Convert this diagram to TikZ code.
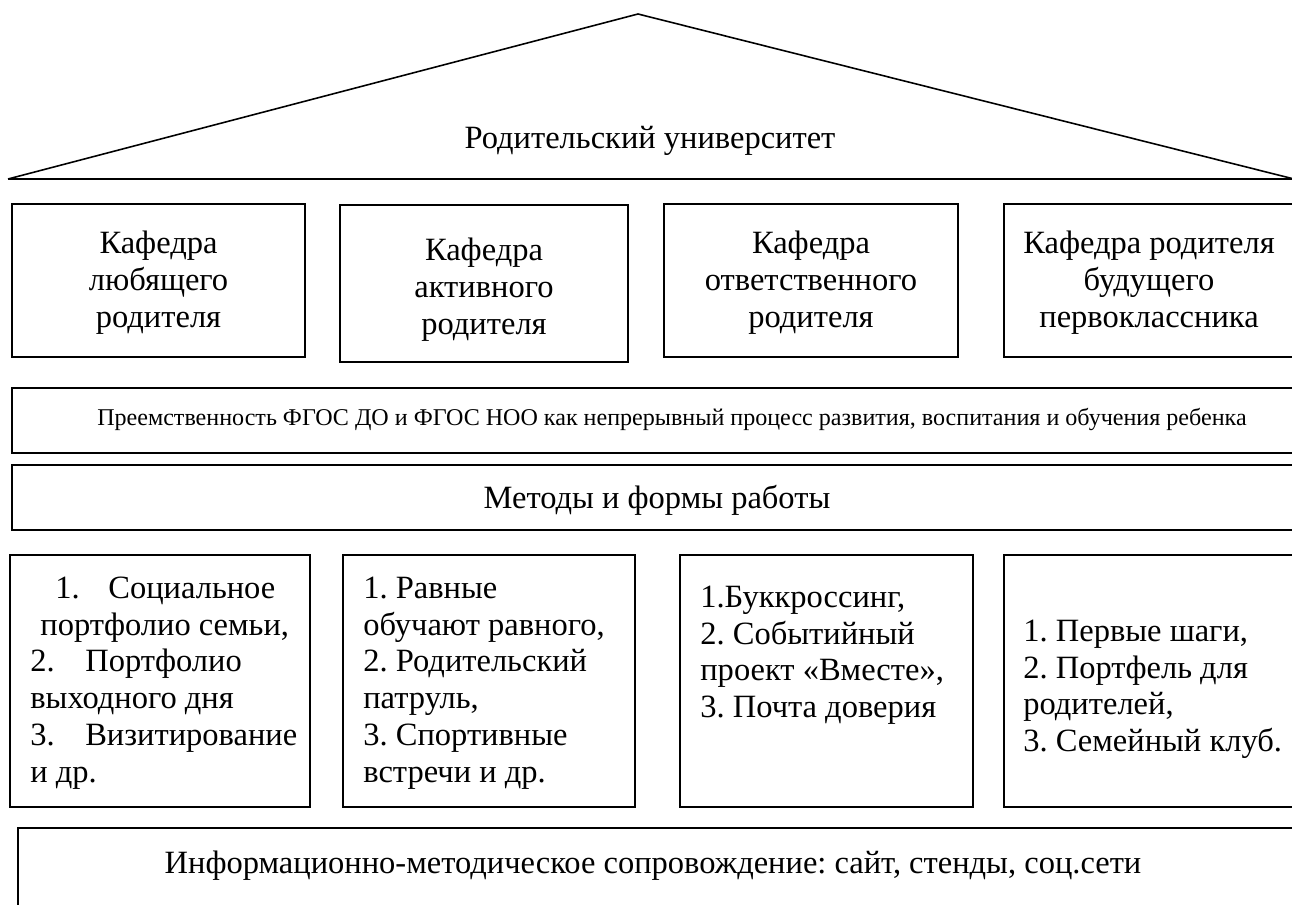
\documentclass[tikz,border=0pt]{standalone}
\usepackage{fontspec}
\setmainfont{Liberation Serif}
\begin{document}
\frenchspacing
\begin{tikzpicture}[x=0.02cm,y=-0.02cm,
  box/.style={draw, line width=1pt, inner sep=0pt},
  big/.style={font=\fontsize{18.5}{21}\selectfont, inner sep=0pt},
  small/.style={font=\fontsize{13.7}{16}\selectfont, inner sep=0pt},
  list/.style={big, align=left, anchor=north west}]
\useasboundingbox (0,0) rectangle (1292,905);
% roof
\coordinate (apex) at (638,14);
\coordinate (bl) at (8,179);
\coordinate (br) at (1294,179);
\draw[line width=0.9pt, line join=miter] (bl) -- (apex) -- (br);
\draw[line width=1.4pt] (bl) -- (br);
\node[big] (roof) at (650,141) {Родительский университет};
% kafedra boxes
\node[box, minimum width=5.86cm, minimum height=3.06cm] (k1) at (158.5,280.5) {};
\node[box, minimum width=5.76cm, minimum height=3.14cm] (k2) at (484,283.5) {};
\node[box, minimum width=5.88cm, minimum height=3.06cm] (k3) at (811,280.5) {};
\node[box, minimum width=5.80cm, minimum height=3.06cm] (k4) at (1149,280.5) {};
\node[big, align=center] (k1t) at (158.5,283) {Кафедра\\любящего\\родителя};
\node[big, align=center] (k2t) at (484,290) {Кафедра\\активного\\родителя};
\node[big, align=center] (k3t) at (811,283) {Кафедра\\ответственного\\родителя};
\node[big, align=center] (k4t) at (1149,283) {Кафедра родителя\\будущего\\первоклассника};
% wide boxes
\node[box, minimum width=26.56cm, minimum height=1.30cm] (pre) at (676,420.5) {};
\node[small] (pret) at (672,419) {Преемственность ФГОС ДО и ФГОС НОО как непрерывный процесс развития, воспитания и обучения ребенка};
\node[box, minimum width=26.56cm, minimum height=1.30cm] (met) at (676,497.5) {};
\node[big] (mett) at (657,500) {Методы и формы работы};
% method boxes
\node[box, minimum width=6.00cm, minimum height=5.04cm] (m1) at (160,681) {};
\node[box, minimum width=5.84cm, minimum height=5.04cm] (m2) at (489,681) {};
\node[box, minimum width=5.86cm, minimum height=5.04cm] (m3) at (826.5,681) {};
\node[box, minimum width=5.92cm, minimum height=5.04cm] (m4) at (1152,681) {};
\node[list] (m1t) at (30,572) {\strut\makebox[44.4pt][l]{\hspace*{14.2pt}1.}Социальное\\
\hspace*{5.7pt}портфолио семьи,\\
\makebox[31.3pt][l]{2.}Портфолио\\
выходного дня\\
\makebox[31.3pt][l]{3.}Визитирование\\
и др.};
\node[list] (m2t) at (363,572) {\strut 1. Равные\\обучают равного,\\2. Родительский\\патруль,\\3. Спортивные\\встречи и др.};
\node[list] (m3t) at (700,581) {\strut 1.Буккроссинг,\\2. Событийный\\проект «Вместе»,\\3. Почта доверия};
\node[list] (m4t) at (1023,615) {\strut 1. Первые шаги,\\2. Портфель для\\родителей,\\3. Семейный клуб.};
% info box
\node[box, minimum width=26.44cm, minimum height=2.64cm] (inf) at (679,894) {};
\node[big] (inft) at (653,866) {Информационно-методическое сопровождение: сайт, стенды, соц.сети};
\end{tikzpicture}
\end{document}
